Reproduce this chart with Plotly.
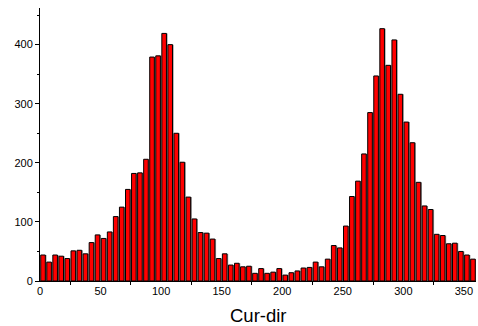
import numpy as np
import plotly.graph_objects as go

# bin centres (5-degree bins, 0..360)
bin_centers = list(np.arange(2.5, 360, 5))
counts = [44, 32, 44, 42, 38, 51, 52, 46, 65, 78, 72, 83, 109, 125, 155, 182, 183, 206, 379, 381,
          419, 400, 250, 201, 142, 105, 82, 81, 71, 38,
          46, 27, 30, 24, 25, 13, 21, 13, 15, 21,
          10, 14, 17, 22, 23, 32, 24, 37, 60, 56,
          93, 143, 169, 215, 285, 347, 427, 365, 408, 316,
          269, 234, 167, 127, 121, 79, 77, 63, 64, 50, 44, 37]
x_tick_vals = [0, 50, 100, 150, 200, 250, 300, 350]
y_tick_vals = [0, 100, 200, 300, 400]
x_title = "Cur-dir"

fig = go.Figure()
# drop shadow
fig.add_trace(go.Bar(x=bin_centers, y=counts, width=3.8, offset=-0.9,
                     marker=dict(color="#9a9a9a", line=dict(width=0)),
                     hoverinfo="skip", showlegend=False))
# main bars
fig.add_trace(go.Bar(x=bin_centers, y=counts, width=3.8, offset=-1.9,
                     marker=dict(color="#ff0000", line=dict(color="#000000", width=1)),
                     showlegend=False))

fig.update_layout(
    width=478, height=326,
    margin=dict(l=40, r=2, t=8, b=45),
    barmode="overlay",
    paper_bgcolor="white", plot_bgcolor="white",
    font=dict(family="Liberation Sans, Arial, sans-serif", size=11, color="#000000"),
    xaxis=dict(range=[0, 360], tickvals=x_tick_vals, ticks="outside", ticklen=0,
               showline=True, linecolor="black", linewidth=1, showgrid=False, zeroline=False,
               minor=dict(tick0=25, dtick=50, ticks="outside", ticklen=3, tickcolor="black")),
    yaxis=dict(range=[0, 462], tickvals=y_tick_vals, ticks="outside", ticklen=4,
               tickcolor="black", showline=True, linecolor="black", linewidth=1,
               showgrid=False, zeroline=False,
               minor=dict(tick0=50, dtick=100, ticks="outside", ticklen=2, tickcolor="black")),
    annotations=[dict(text=x_title, xref="paper", yref="paper", x=0.5, y=-0.128,
                      xanchor="center", yanchor="middle", showarrow=False,
                      font=dict(size=18.5))],
)

fig.write_html("out.html")
